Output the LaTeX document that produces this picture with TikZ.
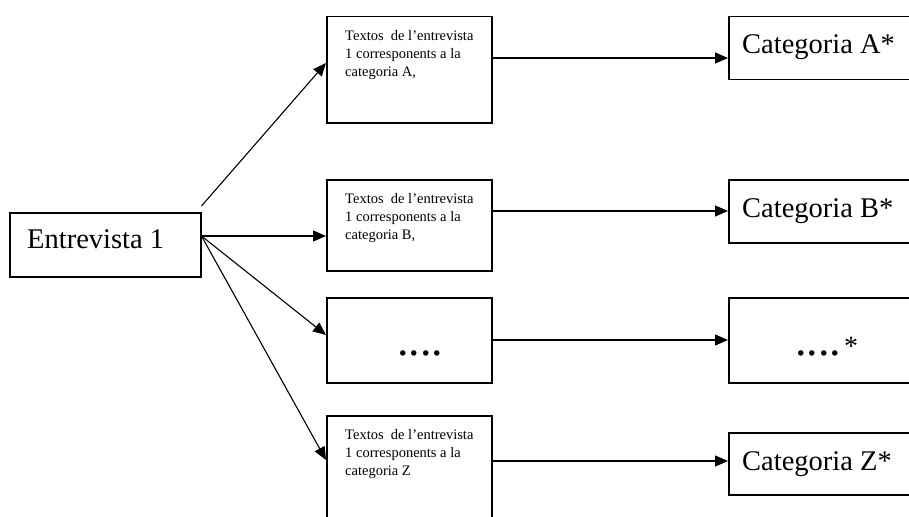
\documentclass[tikz,border=0pt]{standalone}
\usepackage{fontspec}
\setmainfont{Liberation Serif}
\usetikzlibrary{arrows.meta,positioning}

\begin{document}
\begin{tikzpicture}[x=1pt,y=-1pt,
  box/.style={draw,line width=1.5pt,rectangle,inner sep=0pt,anchor=north west},
  link/.style={line width=1.1pt,-{Triangle[length=13pt,width=11pt]}},
  small/.style={font=\fontsize{14.5}{18}\selectfont,align=left,anchor=north west,inner sep=0pt},
  big/.style={font=\fontsize{28.5}{32}\selectfont,inner sep=0pt},
  dots/.style={font=\fontsize{46}{46}\selectfont,inner sep=0pt}]
% Page
\clip (0,0) rectangle (909,516);

% Interview box
\node[box,minimum width=191pt,minimum height=64pt] (ent) at (9,212) {};
\node[big,anchor=base west] (entTxt) at (27,248) {Entrevista 1};

% Text boxes and category boxes
\foreach \n/\mtop/\mht/\ctop/\cht in {A/16/106/16/63, B/179/91/179/63, D/297/85/297/85, Z/415/130/432/62} {
  \node[box,minimum width=165pt,minimum height=\mht pt] (mid\n) at (326,\mtop) {};
  \node[box,minimum width=200pt,minimum height=\cht pt] (cat\n) at (728,\ctop) {};
}

% Texts
\node[small] (txtA) at (345,30) {Textos\ \ de l’entrevista\\1 corresponents a la\\categoria A,};
\node[small] (txtB) at (345,193) {Textos\ \ de l’entrevista\\1 corresponents a la\\categoria B,};
\node[dots,anchor=base] (txtD) at (420,355) {....};
\node[small] (txtZ) at (345,429) {Textos\ \ de l’entrevista\\1 corresponents a la\\categoria Z};

\node[big,anchor=base west] (labA) at (742,54) {Categoria A*};
\node[big,anchor=base west] (labB) at (742,217) {Categoria B*};
\node[dots,anchor=base west] (labD) at (795,355) {....\hspace{3pt}{\fontsize{28}{28}\selectfont *}};
\node[big,anchor=base west] (labZ) at (742,470) {Categoria Z*};

% Arrows from the interview
\coordinate (fanA) at ([yshift=6pt]ent.north east);
\coordinate (fan) at ([yshift=-24pt]ent.north east);
\draw[link] (fanA) -- ([yshift=-47pt]midA.north west);
\draw[link] (fan) -- (fan -| midB.west);
\draw[link] (fan) -- ([yshift=-38pt]midD.north west);
\draw[link] (fan) -- ([yshift=-45pt]midZ.north west);

% Arrows to the categories
\foreach \n/\dy in {A/42, B/32, D/43, Z/46}
  \draw[link] ([yshift=-\dy pt]mid\n.north east) coordinate (s\n) -- (s\n -| cat\n.west);
\end{tikzpicture}
\end{document}
